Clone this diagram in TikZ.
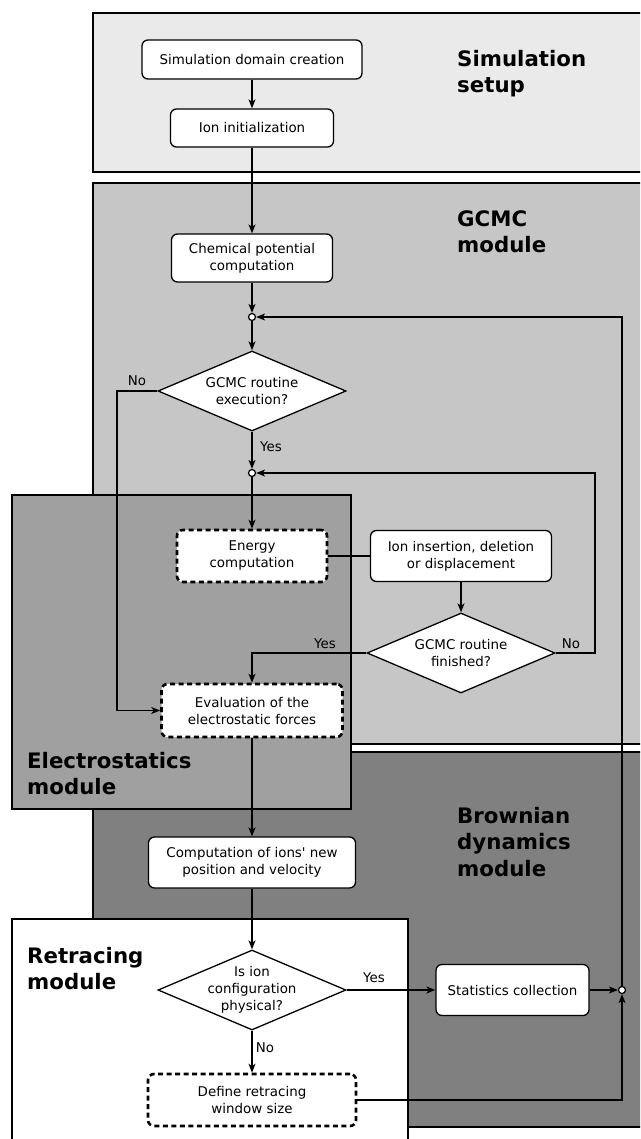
\documentclass[tikz,border=0pt]{standalone}
\usepackage{fontspec}
\setmainfont{DejaVu Sans}[Ligatures=TeXOff]
\usetikzlibrary{shapes.geometric,arrows.meta}

\definecolor{setupgray}{HTML}{EAEAEA}
\definecolor{gcmcgray}{HTML}{C6C6C6}
\definecolor{elecgray}{HTML}{A0A0A0}
\definecolor{bdgray}{HTML}{808080}

\begin{document}
\begin{tikzpicture}[x=1pt,y=-1pt,
  >={Stealth[length=9pt,width=7pt,inset=2.5pt]},
  every node/.style={font=\fontsize{13.4}{17}\selectfont},
  proc/.style={draw,fill=white,rounded corners=6pt,line width=1.3pt,
    align=center,inner sep=0pt},
  procdash/.style={proc,line width=2.6pt,dash pattern=on 5pt off 3.5pt},
  decide/.style={draw,fill=white,diamond,aspect=2.35,inner sep=-4pt,
    line width=1.3pt,align=center,minimum width=188pt,minimum height=80pt},
  joint/.style={draw,fill=white,circle,inner sep=0pt,minimum size=7pt,
    line width=1.2pt},
  panel/.style={draw,line width=1.2pt},
  title/.style={font=\fontsize{21.3}{26.5}\selectfont\bfseries,
    anchor=north west,align=left,inner sep=0pt},
  flow/.style={->,line width=1.3pt}]
\useasboundingbox (0,0) rectangle (640,1139);
\clip (0,0) rectangle (640,1139);
% module panels
\draw[panel,fill=setupgray] (93,13) rectangle (650,172);
\draw[panel,fill=gcmcgray] (93,183) rectangle (650,744);
\draw[panel,fill=bdgray] (93,752) rectangle (650,1127);
\draw[panel,fill=elecgray] (12,495) rectangle (351,809);
\draw[panel,fill=white] (12,919) rectangle (408,1150);
\node[title] (setuplbl) at (457,50) {Simulation\\setup};
\node[title] (gcmclbl) at (457,210) {GCMC\\module};
\node[title] (eleclbl) at (27,752) {Electrostatics\\module};
\node[title] (bdlbl) at (457,807) {Brownian\\dynamics\\module};
\node[title] (retlbl) at (27,947) {Retracing\\module};
% steps
\node[proc,minimum width=220pt,minimum height=39pt] (domain) at (252,59.5)
  {Simulation domain creation};
\node[proc,minimum width=163pt,minimum height=38pt] (init) at (252,128)
  {Ion initialization};
\node[proc,minimum width=161pt,minimum height=48pt] (chem) at (252,258)
  {Chemical potential\\computation};
\node[joint] (j1) at (252,317) {};
\node[decide] (execq) at (252,391) {GCMC routine\\execution?};
\node[joint] (j2) at (252,473) {};
\node[procdash,minimum width=150pt,minimum height=52pt] (energy) at (252,556)
  {Energy\\computation};
\node[proc,minimum width=181pt,minimum height=51pt] (trial) at (461,556)
  {Ion insertion, deletion\\or displacement};
\node[decide] (doneq) at (461,653) {GCMC routine\\finished?};
\node[procdash,minimum width=181pt,minimum height=53pt] (forces) at (252,710.5)
  {Evaluation of the\\electrostatic forces};
\node[proc,minimum width=207pt,minimum height=51pt] (move) at (252,862.5)
  {Computation of ions' new\\position and velocity};
\node[decide] (physq) at (252,990) {Is ion\\configuration\\physical?};
\node[proc,minimum width=153pt,minimum height=51pt] (stats) at (512.5,990)
  {Statistics collection};
\node[joint] (j3) at (622,990) {};
\node[procdash,minimum width=208pt,minimum height=52pt] (window) at (252,1100)
  {Define retracing\\window size};
\coordinate (skip) at (117,391);
\coordinate (again) at (595,473);
% branch labels
\node (noA) at (137,381) {No};
\node (yesA) at (271,447) {Yes};
\node (yesB) at (325,644) {Yes};
\node (noB) at (571,644) {No};
\node (yesC) at (374,978) {Yes};
\node (noC) at (265,1048) {No};
% connectors
\draw[flow] (domain) -- (init);
\draw[flow] (init) -- (chem);
\draw[flow] (chem) -- (j1);
\draw[flow] (j1) -- (execq);
\draw[flow] (execq) -- (j2);
\draw[flow] (j2) -- (energy);
\draw[line width=1.3pt] (energy) -- (trial);
\draw[flow] (trial) -- (doneq);
\draw[flow] (doneq.west) -| (forces.north);
\draw[flow] (doneq.east) -| (again) -- (j2);
\draw[flow] (execq.west) -- (skip) |- (forces.west);
\draw[flow] (forces) -- (move);
\draw[flow] (move) -- (physq);
\draw[flow] (physq) -- (stats);
\draw[flow] (stats) -- (j3);
\draw[flow] (physq) -- (window);
\draw[flow] (window.east) -| (j3.south);
\draw[flow] (j3.north) |- (j1.east);
\end{tikzpicture}
\end{document}
